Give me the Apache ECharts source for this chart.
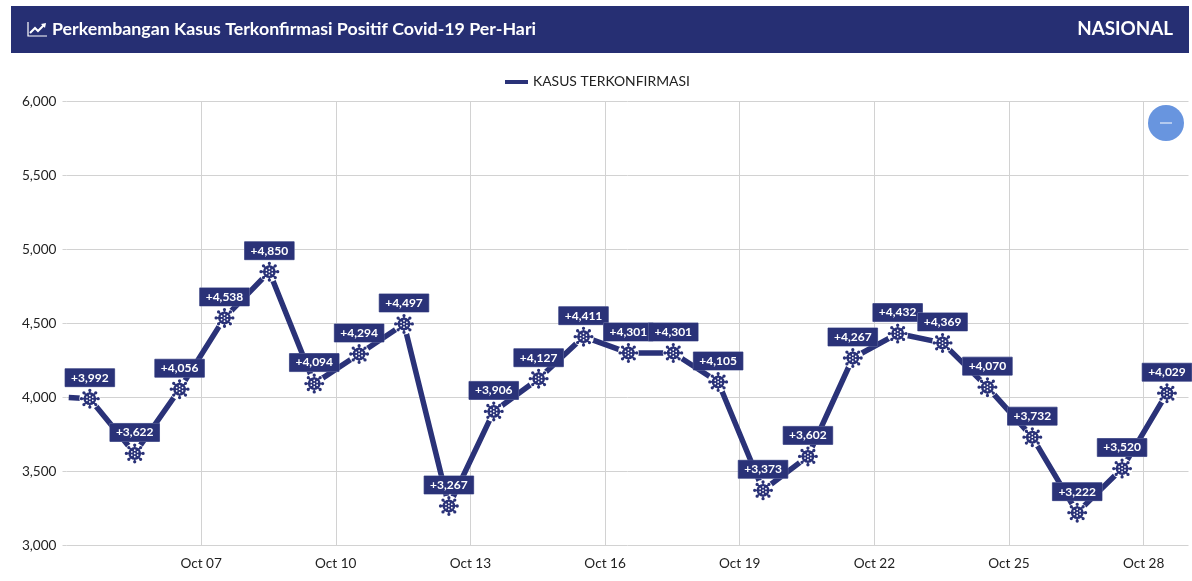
<!DOCTYPE html>
<html>
<head>
<meta charset="utf-8">
<style>html,body{margin:0;padding:0;background:#fff}#c{width:1192px;height:581px}</style>
<script src="https://cdn.jsdelivr.net/npm/echarts@6/dist/echarts.min.js"></script>
</head>
<body>
<div id="c"></div>
<script>
const dates = ['Oct 03','Oct 04','Oct 05','Oct 06','Oct 07','Oct 08','Oct 09','Oct 10','Oct 11','Oct 12','Oct 13','Oct 14','Oct 15','Oct 16','Oct 17','Oct 18','Oct 19','Oct 20','Oct 21','Oct 22','Oct 23','Oct 24','Oct 25','Oct 26','Oct 27','Oct 28'];
const cases = [4000,3992,3622,4056,4538,4850,4094,4294,4497,3267,3906,4127,4411,4301,4301,4105,3373,3602,4267,4432,4369,4070,3732,3222,3520,4029];
const seriesName = 'KASUS TERKONFIRMASI';
const titleText = 'Perkembangan Kasus Terkonfirmasi Positif Covid-19 Per-Hari';
const scopeText = 'NASIONAL';
const yTicks = {min:3000,max:6000,step:500};

const NAVY = '#2a3278', HEAD = '#262f73', FONT = 'Lato';

function circ(cx,cy,r,ccw){
  const s = ccw ? 0 : 1;
  return `M${cx-r} ${cy}A${r} ${r} 0 1 ${s} ${cx+r} ${cy}A${r} ${r} 0 1 ${s} ${cx-r} ${cy}Z`;
}
function virusPath(){
  let d = circ(0,0,6.6,false);
  for(let k=0;k<8;k++){
    const a = k*Math.PI/4;
    const c=Math.cos(a), s=Math.sin(a), w=0.9;
    const p=(r,o)=>`${(c*r-s*o).toFixed(2)} ${(s*r+c*o).toFixed(2)}`;
    d += `M${p(5.5,-w)}L${p(8.5,-w)}L${p(8.5,w)}L${p(5.5,w)}Z`;
    d += circ(+(c*8.6).toFixed(2),+(s*8.6).toFixed(2),1.7,false);
  }
  [[0,0],[-3,-1.7],[3,-1.7],[-3,1.7],[3,1.7],[0,-3.4],[0,3.4]].forEach(h=>{ d += circ(h[0],h[1],0.9,true); });
  return 'path://'+d;
}
// the first entry is the stub that enters the plot at its left edge
const points = cases.map((v,i)=>[i===0 ? 0.05 : i-0.48, v]);
const shown = points.slice(1);
const fmt = v => '+' + v.toLocaleString('en-US');

const chart = echarts.init(document.getElementById('c'),null,{renderer:'canvas'});
chart.setOption({
  animation:false,
  backgroundColor:'#fff',
  textStyle:{fontFamily:FONT},
  legend:{
    top:70,left:500,data:[seriesName],icon:'rect',itemWidth:23,itemHeight:4,itemGap:5,
    selectedMode:false,
    textStyle:{fontFamily:FONT,fontSize:13.9,color:'#222'}
  },
  grid:{left:66.5,right:3.5,top:101.5,bottom:35.5},
  xAxis:{
    type:'value',min:0,max:25,interval:3,
    axisLine:{show:false},axisTick:{show:false},
    splitLine:{show:true,showMinLine:false,showMaxLine:false,lineStyle:{color:'#d2d2d2',width:1}},
    axisLabel:{showMinLabel:false,showMaxLabel:false,margin:11,fontSize:13.6,color:'#222',fontFamily:FONT,
      formatter:v=> (v>0 && v<25) ? dates[v+1] : ''}
  },
  yAxis:{
    type:'value',min:yTicks.min,max:yTicks.max,interval:yTicks.step,
    axisLine:{show:false},
    axisTick:{show:true,length:4,lineStyle:{color:'#d2d2d2'}},
    splitLine:{show:true,lineStyle:{color:'#d2d2d2',width:1}},
    axisLabel:{margin:10,fontSize:13.6,color:'#222',fontFamily:FONT,formatter:v=>v.toLocaleString('en-US')}
  },
  series:[
    {name:seriesName,type:'line',data:points,symbol:'none',color:NAVY,clip:true,silent:true,
      lineStyle:{color:NAVY,width:5.5,join:'round',cap:'butt'},z:2},
    {name:'halo',type:'scatter',data:shown,symbol:'circle',symbolSize:21,silent:true,
      itemStyle:{color:'#fff',opacity:1},z:3},
    {name:'icon',type:'scatter',data:shown,symbol:virusPath(),symbolSize:20,silent:true,
      itemStyle:{color:NAVY,opacity:1},z:4,
      label:{show:true,position:'top',distance:2,formatter:p=>fmt(p.value[1]),
        backgroundColor:NAVY,borderColor:'#6d75a6',borderWidth:0.5,
        padding:[3,6,3,6],color:'#fff',fontFamily:FONT,fontWeight:'bold',fontSize:12,lineHeight:12}}
  ],
  graphic:[
    {type:'rect',silent:true,shape:{x:11,y:6,width:1178,height:47},style:{fill:HEAD},z:10},
    {type:'polyline',silent:true,shape:{points:[[28,22],[28,36],[47,36]]},style:{stroke:'#fff',lineWidth:1.2,fill:null},z:11},
    {type:'polyline',silent:true,shape:{points:[[30,33],[35,28],[38,31],[44,25]]},style:{stroke:'#fff',lineWidth:2,fill:null},z:11},
    {type:'polygon',silent:true,shape:{points:[[41,24],[46,23],[45,28]]},style:{fill:'#fff'},z:11},
    {type:'text',silent:true,x:52,y:29,style:{text:titleText,fill:'#fff',font:'bold 17.8px Lato',textVerticalAlign:'middle'},z:11},
    {type:'text',silent:true,x:1173,y:29,style:{text:scopeText,fill:'#fff',font:'bold 18.8px Lato',textAlign:'right',textVerticalAlign:'middle'},z:11},
    {type:'circle',silent:true,shape:{cx:1166,cy:123,r:18},style:{fill:'#6895df'},z:11},
    {type:'rect',silent:true,shape:{x:1160,y:122.5,width:12,height:1},style:{fill:'#fff'},z:12}
  ]
});
</script>
</body>
</html>
